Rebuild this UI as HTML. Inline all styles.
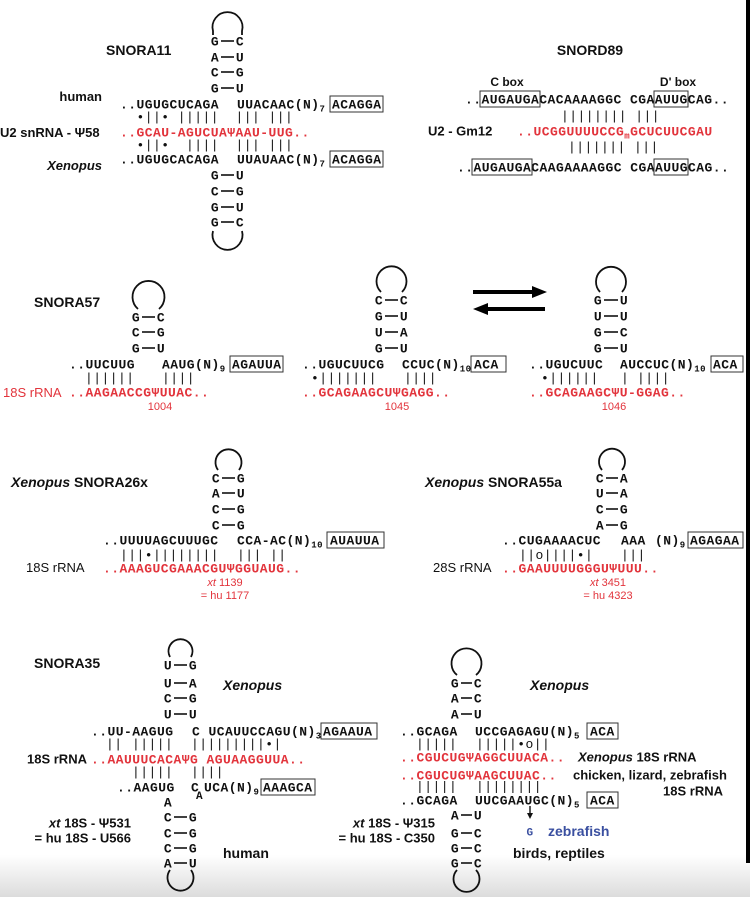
<!DOCTYPE html>
<html><head><meta charset="utf-8"><style>
html,body{margin:0;padding:0;background:#fff}
svg{display:block}
.m{font-family:"Liberation Mono",monospace;font-weight:bold;font-size:13px;letter-spacing:0.45px;fill:#111}
.b{font-family:"Liberation Mono",monospace;font-size:13px;letter-spacing:0.45px;fill:#111}
.r{fill:#e2343c}
.s{font-family:"Liberation Sans",sans-serif;font-weight:bold;font-size:13px;fill:#111}
.t{font-family:"Liberation Sans",sans-serif;font-weight:bold;font-size:14px;fill:#111}
.n{font-family:"Liberation Sans",sans-serif;font-size:11px;fill:#e2343c}
.sub{font-size:9px}
.bx{fill:none;stroke:#333;stroke-width:1}
.ln{stroke:#111;stroke-width:1.6}
.lp{fill:none;stroke:#111;stroke-width:1.8}
</style></head><body>
<svg width="750" height="897" viewBox="0 0 750 897" xmlns="http://www.w3.org/2000/svg">
<defs><linearGradient id="g" x1="0" y1="0" x2="0" y2="1"><stop offset="0" stop-color="#fff"/><stop offset="1" stop-color="#dcdcdc"/></linearGradient></defs>
<rect x="0" y="855" width="750" height="42" fill="url(#g)"/>
<rect x="746" y="0" width="4" height="863" fill="#000"/>

<!-- SNORA11 -->
<text class="t" x="106" y="55">SNORA11</text>
<path class="lp" d="M213 35 L213 31 A15 15 0 1 1 242 31 L242 35"/>
<g class="m" text-anchor="middle">
<text x="215" y="45.5">G</text><text x="240" y="45.5">C</text>
<text x="215" y="61.5">A</text><text x="240" y="61.5">U</text>
<text x="215" y="76.5">C</text><text x="240" y="76.5">G</text>
<text x="215" y="92.5">G</text><text x="240" y="92.5">U</text>
<text x="215" y="179.5">G</text><text x="240" y="179.5">U</text>
<text x="215" y="195.5">C</text><text x="240" y="195.5">G</text>
<text x="215" y="211.5">G</text><text x="240" y="211.5">U</text>
<text x="215" y="226.5">G</text><text x="240" y="226.5">C</text>
</g>
<g class="ln"><line x1="221" y1="41" x2="234" y2="41"/><line x1="221" y1="57" x2="234" y2="57"/><line x1="221" y1="72" x2="234" y2="72"/><line x1="221" y1="88" x2="234" y2="88"/><line x1="221" y1="175" x2="234" y2="175"/><line x1="221" y1="191" x2="234" y2="191"/><line x1="221" y1="207" x2="234" y2="207"/><line x1="221" y1="222" x2="234" y2="222"/></g>
<path class="lp" d="M213 231 A15 15 0 1 0 242 231"/>
<text class="s" x="102" y="101" text-anchor="end">human</text>
<text class="m" x="120" y="108.5">..UGUGCUCAGA</text>
<text class="m" x="237" y="108.5">UUACAAC(N)<tspan class="sub" dy="3">7</tspan></text>
<rect class="bx" x="330" y="96" width="53" height="16"/><text class="m" x="332" y="108.5">ACAGGA</text>
<text class="b" x="120" y="121" xml:space="preserve">  •||• |||||  ||| |||</text>
<text class="s r" x="0" y="137">U2 snRNA  - Ψ58</text>
<text class="m r" x="120" y="136.5">..GCAU-AGUCUAΨAAU-UUG..</text>
<text class="b" x="120" y="149" xml:space="preserve">  •||•  ||||  ||| |||</text>
<text class="s" x="102" y="170" text-anchor="end" font-style="italic">Xenopus</text>
<text class="m" x="120" y="163.5">..UGUGCACAGA</text>
<text class="m" x="237" y="163.5">UUAUAAC(N)<tspan class="sub" dy="3">7</tspan></text>
<rect class="bx" x="330" y="151" width="53" height="16"/><text class="m" x="332" y="163.5">ACAGGA</text>

<!-- SNORD89 -->
<text class="t" x="590" y="55" text-anchor="middle">SNORD89</text>
<text class="s" x="507" y="86" text-anchor="middle" style="font-size:12px">C box</text>
<text class="s" x="678" y="86" text-anchor="middle" style="font-size:12px">D' box</text>
<text class="m" x="465" y="103.5">..AUGAUGACACAAAAGGC CGAAUUGCAG..</text>
<rect class="bx" x="480" y="91" width="60" height="16"/><rect class="bx" x="654" y="91" width="34" height="16"/>
<text class="b" x="561" y="120">|||||||| |||</text>
<text class="s r" x="428" y="135.5">U2 - Gm12</text>
<text class="m r" x="517" y="135.5">..UCGGUUUUCCG<tspan class="sub" dy="3">m</tspan><tspan dy="-3">GCUCUUCGAU</tspan></text>
<text class="b" x="568" y="151">||||||| |||</text>
<text class="m" x="457" y="171.5">..AUGAUGACAAGAAAAGGC CGAAUUGCAG..</text>
<rect class="bx" x="472" y="159" width="60" height="16"/><rect class="bx" x="654" y="159" width="34" height="16"/>

<!-- SNORA57 -->
<text class="t" x="34" y="307">SNORA57</text>
<path class="lp" d="M138 309 A16 16 0 1 1 159 309"/>
<path class="lp" d="M381 292 A15 15 0 1 1 402 292"/>
<path class="lp" d="M600 292 A15 15 0 1 1 622 292"/>
<g class="m" text-anchor="middle">
<text x="136" y="321.5">G</text><text x="161" y="321.5">C</text>
<text x="136" y="336.5">C</text><text x="161" y="336.5">G</text>
<text x="136" y="352.5">G</text><text x="161" y="352.5">U</text>
<text x="379" y="304.5">C</text><text x="404" y="304.5">C</text>
<text x="379" y="320.5">G</text><text x="404" y="320.5">U</text>
<text x="379" y="336.5">U</text><text x="404" y="336.5">A</text>
<text x="379" y="352.5">G</text><text x="404" y="352.5">U</text>
<text x="598" y="304.5">G</text><text x="624" y="304.5">U</text>
<text x="598" y="320.5">U</text><text x="624" y="320.5">U</text>
<text x="598" y="336.5">G</text><text x="624" y="336.5">C</text>
<text x="598" y="352.5">G</text><text x="624" y="352.5">U</text>
</g>
<g class="ln">
<line x1="142" y1="317" x2="155" y2="317"/><line x1="142" y1="332" x2="155" y2="332"/><line x1="142" y1="348" x2="155" y2="348"/>
<line x1="385" y1="300" x2="398" y2="300"/><line x1="385" y1="316" x2="398" y2="316"/><line x1="385" y1="332" x2="398" y2="332"/><line x1="385" y1="348" x2="398" y2="348"/>
<line x1="604" y1="300" x2="618" y2="300"/><line x1="604" y1="316" x2="618" y2="316"/><line x1="604" y1="332" x2="618" y2="332"/><line x1="604" y1="348" x2="618" y2="348"/>
</g>
<text class="m" x="69" y="368.5">..UUCUUG</text>
<text class="m" x="162" y="368.5">AAUG(N)<tspan class="sub" dy="3">9</tspan></text>
<rect class="bx" x="230" y="356" width="53" height="16"/><text class="m" x="232" y="368.5">AGAUUA</text>
<text class="b" x="85" y="382">||||||</text><text class="b" x="162" y="382">||||</text>
<text class="r" x="3" y="397" style="font-family:'Liberation Sans',sans-serif;font-size:13px">18S rRNA</text>
<text class="m r" x="69" y="396.5">..AAGAACCGΨUUAC..</text>
<text class="n" x="160" y="410" text-anchor="middle">1004</text>

<text class="m" x="302" y="368.5">..UGUCUUCG</text>
<text class="m" x="402" y="368.5">CCUC(N)<tspan class="sub" dy="3">10</tspan></text>
<rect class="bx" x="471" y="356" width="35" height="16"/><text class="m" x="474" y="368.5">ACA</text>
<text class="b" x="311" y="382">•|||||||</text><text class="b" x="404" y="382">||||</text>
<text class="m r" x="302" y="396.5">..GCAGAAGCUΨGAGG..</text>
<text class="n" x="397" y="410" text-anchor="middle">1045</text>

<line x1="473" y1="292" x2="534" y2="292" stroke="#000" stroke-width="4"/><path d="M532 286 L547 292 L532 298 Z" fill="#000"/>
<line x1="486" y1="309" x2="545" y2="309" stroke="#000" stroke-width="4"/><path d="M488 303 L473 309 L488 315 Z" fill="#000"/>

<text class="m" x="529" y="368.5">..UGUCUUC</text>
<text class="m" x="620" y="368.5">AUCCUC(N)<tspan class="sub" dy="3">10</tspan></text>
<rect class="bx" x="711" y="356" width="32" height="16"/><text class="m" x="713" y="368.5">ACA</text>
<text class="b" x="541" y="382">•||||||</text><text class="b" x="621" y="382">|</text><text class="b" x="637" y="382">||||</text>
<text class="m r" x="529" y="396.5">..GCAGAAGCΨU-GGAG..</text>
<text class="n" x="614" y="410" text-anchor="middle">1046</text>

<!-- SNORA26x -->
<text class="t" x="11" y="487"><tspan font-style="italic">Xenopus</tspan> SNORA26x</text>
<path class="lp" d="M218 470 A13 13 0 1 1 239 470"/>
<path class="lp" d="M602 470 A13 13 0 1 1 622 470"/>
<g class="m" text-anchor="middle">
<text x="216" y="482.5">C</text><text x="241" y="482.5">G</text>
<text x="216" y="497.5">A</text><text x="241" y="497.5">U</text>
<text x="216" y="513.5">C</text><text x="241" y="513.5">G</text>
<text x="216" y="529.5">C</text><text x="241" y="529.5">G</text>
<text x="600" y="482.5">C</text><text x="624" y="482.5">A</text>
<text x="600" y="497.5">U</text><text x="624" y="497.5">A</text>
<text x="600" y="513.5">C</text><text x="624" y="513.5">G</text>
<text x="600" y="529.5">A</text><text x="624" y="529.5">G</text>
</g>
<g class="ln">
<line x1="222" y1="478" x2="235" y2="478"/><line x1="222" y1="493" x2="235" y2="493"/><line x1="222" y1="509" x2="235" y2="509"/><line x1="222" y1="525" x2="235" y2="525"/>
<line x1="606" y1="478" x2="618" y2="478"/><line x1="606" y1="493" x2="618" y2="493"/><line x1="606" y1="509" x2="618" y2="509"/><line x1="606" y1="525" x2="618" y2="525"/>
</g>
<text class="m" x="103" y="544.5">..UUUUAGCUUUGC</text>
<text class="m" x="237" y="544.5">CCA-AC(N)<tspan class="sub" dy="3">10</tspan></text>
<rect class="bx" x="327" y="532" width="57" height="16"/><text class="m" x="330" y="544.5">AUAUUA</text>
<text class="b" x="120" y="559">|||•||||||||</text><text class="b" x="237" y="559">|||</text><text class="b" x="270" y="559">||</text>
<text class="s r" x="26" y="572" style="font-weight:normal">18S rRNA</text>
<text class="m r" x="103" y="572.5">..AAAGUCGAAACGUΨGGUAUG..</text>
<text class="n" x="225" y="586" text-anchor="middle"><tspan font-style="italic">xt</tspan> 1139</text>
<text class="n" x="225" y="599" text-anchor="middle">= hu 1177</text>

<!-- SNORA55a -->
<text class="t" x="425" y="487"><tspan font-style="italic">Xenopus</tspan> SNORA55a</text>
<text class="m" x="502" y="544.5">..CUGAAAACUC</text>
<text class="m" x="621" y="544.5">AAA</text>
<text class="m" x="655" y="544.5">(N)<tspan class="sub" dy="3">9</tspan></text>
<rect class="bx" x="688" y="532" width="55" height="16"/><text class="m" x="690" y="544.5">AGAGAA</text>
<text class="b" x="519" y="559">||o||||•|</text><text class="b" x="621" y="559">|||</text>
<text class="s r" x="433" y="572" style="font-weight:normal">28S rRNA</text>
<text class="m r" x="502" y="572.5">..GAAUUUUGGGUΨUUU..</text>
<text class="n" x="608" y="586" text-anchor="middle"><tspan font-style="italic">xt</tspan> 3451</text>
<text class="n" x="608" y="599" text-anchor="middle">= hu 4323</text>

<!-- SNORA35 left -->
<text class="t" x="34" y="668">SNORA35</text>
<path class="lp" d="M170 657 A12 12 0 1 1 191 657"/>
<path class="lp" d="M170 870 A13 13 0 1 0 191 870"/>
<g class="m" text-anchor="middle">
<text x="168" y="669.5">U</text><text x="193" y="669.5">G</text>
<text x="168" y="687.5">U</text><text x="193" y="687.5">A</text>
<text x="168" y="702.5">C</text><text x="193" y="702.5">G</text>
<text x="168" y="718.5">U</text><text x="193" y="718.5">U</text>
<text x="168" y="806.5">A</text>
<text x="168" y="821.5">C</text><text x="193" y="821.5">G</text>
<text x="168" y="837.5">C</text><text x="193" y="837.5">G</text>
<text x="168" y="852.5">C</text><text x="193" y="852.5">G</text>
<text x="168" y="867.5">A</text><text x="193" y="867.5">U</text>
</g>
<g class="ln">
<line x1="174" y1="665" x2="187" y2="665"/><line x1="174" y1="683" x2="187" y2="683"/><line x1="174" y1="698" x2="187" y2="698"/><line x1="174" y1="714" x2="187" y2="714"/>
<line x1="174" y1="817" x2="187" y2="817"/><line x1="174" y1="833" x2="187" y2="833"/><line x1="174" y1="848" x2="187" y2="848"/><line x1="174" y1="863" x2="187" y2="863"/>
</g>
<text class="t" x="223" y="690" font-style="italic">Xenopus</text>
<text class="m" x="91" y="735.5">..UU-AAGUG</text>
<text class="m" x="192" y="735.5" xml:space="preserve">C UCAUUCCAGU(N)<tspan class="sub" dy="3">3</tspan></text>
<rect class="bx" x="321" y="723" width="56" height="16"/><text class="m" x="323" y="735.5">AGAAUA</text>
<text class="b" x="106" y="748">||</text><text class="b" x="132" y="748">|||||</text><text class="b" x="191" y="748">|||||||||•|</text>
<text class="s r" x="27" y="763.5">18S rRNA</text>
<text class="m r" x="91" y="763.5">..AAUUUCACAΨG AGUAAGGUUA..</text>
<text class="b" x="132" y="776">|||||</text><text class="b" x="191" y="776">||||</text>
<text class="m" x="117" y="791.5">..AAGUG</text>
<text class="m" x="191" y="791.5">C</text>
<text class="m" x="196" y="799" style="font-size:11px">A</text>
<text class="m" x="204" y="791.5">UCA(N)<tspan class="sub" dy="3">9</tspan></text>
<rect class="bx" x="261" y="779" width="54" height="16"/><text class="m" x="263" y="791.5">AAAGCA</text>
<text class="s r" x="131" y="827.5" text-anchor="end"><tspan font-style="italic">xt</tspan> 18S - Ψ531</text>
<text class="s r" x="131" y="842.5" text-anchor="end">=  hu 18S - U566</text>
<text class="t" x="223" y="858">human</text>

<!-- SNORA35 right -->
<path class="lp" d="M457 675 A15 15 0 1 1 476 675"/>
<path class="lp" d="M457 870 A13 13 0 1 0 476 870"/>
<g class="m" text-anchor="middle">
<text x="455" y="687.5">G</text><text x="478" y="687.5">C</text>
<text x="455" y="702.5">A</text><text x="478" y="702.5">C</text>
<text x="455" y="718.5">A</text><text x="478" y="718.5">U</text>
<text x="455" y="819.5">A</text><text x="478" y="819.5">U</text>
<text x="455" y="837.5">G</text><text x="478" y="837.5">C</text>
<text x="455" y="852.5">G</text><text x="478" y="852.5">C</text>
<text x="455" y="867.5">G</text><text x="478" y="867.5">C</text>
</g>
<g class="ln">
<line x1="461" y1="683" x2="472" y2="683"/><line x1="461" y1="698" x2="472" y2="698"/><line x1="461" y1="714" x2="472" y2="714"/>
<line x1="461" y1="815" x2="472" y2="815"/><line x1="461" y1="833" x2="472" y2="833"/><line x1="461" y1="848" x2="472" y2="848"/><line x1="461" y1="863" x2="472" y2="863"/>
</g>
<text class="t" x="530" y="690" font-style="italic">Xenopus</text>
<text class="m" x="400" y="735.5">..GCAGA</text>
<text class="m" x="475" y="735.5">UCCGAGAGU(N)<tspan class="sub" dy="3">5</tspan></text>
<rect class="bx" x="587" y="723" width="31" height="16"/><text class="m" x="590" y="735.5">ACA</text>
<text class="b" x="416" y="748">|||||</text><text class="b" x="476" y="748">|||||•o||</text>
<text class="m r" x="400" y="761.5">..CGUCUGΨAGGCUUACA..</text>
<text class="s r" x="578" y="761.5"><tspan font-style="italic">Xenopus</tspan> 18S rRNA</text>
<text class="m r" x="400" y="779.5">..CGUCUGΨAAGCUUAC..</text>
<text class="s r" x="573" y="779.5">chicken, lizard, zebrafish</text>
<text class="s r" x="723" y="795.5" text-anchor="end">18S rRNA</text>
<text class="b" x="416" y="790.5">|||||</text><text class="b" x="476" y="790.5">||||||||</text>
<text class="m" x="400" y="804.5">..GCAGA</text>
<text class="m" x="475" y="804.5">UUCGAAUGC(N)<tspan class="sub" dy="3">5</tspan></text>
<rect class="bx" x="587" y="792" width="31" height="16"/><text class="m" x="590" y="804.5">ACA</text>
<line x1="530" y1="806" x2="530" y2="814" stroke="#111" stroke-width="1.4"/><path d="M527 813 L530 819 L533 813 Z" fill="#111"/>
<text class="m" x="530" y="835.5" text-anchor="middle" style="fill:#3a4fa0;font-size:11px">G</text>
<text class="t" x="548" y="836" style="fill:#3a4fa0">zebrafish</text>
<text class="t" x="513" y="858">birds, reptiles</text>
<text class="s r" x="435" y="827.5" text-anchor="end"><tspan font-style="italic">xt</tspan> 18S - Ψ315</text>
<text class="s r" x="435" y="842.5" text-anchor="end">=  hu 18S - C350</text>
</svg>
</body></html>
